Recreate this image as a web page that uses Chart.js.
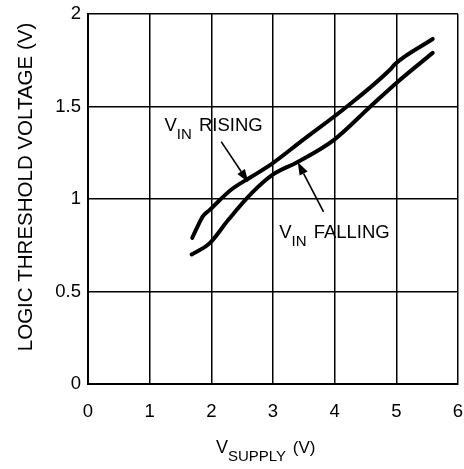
<!DOCTYPE html>
<html><head><meta charset="utf-8">
<script src="https://cdn.jsdelivr.net/npm/chart.js@4/dist/chart.umd.min.js"></script>
<style>html,body{margin:0;padding:0;background:#fff}</style>
</head><body>
<canvas id="c" width="464" height="469"></canvas>
<script>
// ---- data ----
const risingX = [1.69, 1.76, 1.87, 1.97, 2.32, 2.65, 2.98, 3.45, 4.2, 4.9, 4.98, 5.59];
const risingY = [0.79, 0.84, 0.91, 0.94, 1.05, 1.12, 1.19, 1.31, 1.50, 1.70, 1.73, 1.865];
const fallingX = [1.68, 1.97, 2.27, 2.65, 2.99, 3.4, 3.99, 4.58, 5.01, 5.59];
const fallingY = [0.70, 0.76, 0.885, 1.03, 1.13, 1.20, 1.32, 1.50, 1.63, 1.79];
const xTicks = [0, 1, 2, 3, 4, 5, 6];
const yTicks = [0, 0.5, 1, 1.5, 2];
const yTitle = 'LOGIC THRESHOLD VOLTAGE (V)';

const FONT = "'Liberation Sans', Arial, sans-serif";
const toPts = (xs, ys) => xs.map((x, i) => ({x, y: ys[i]}));

// annotation anchors in data units
const notes = [
  {main: 'V', sub: 'IN', rest: ' RISING', x: 1.24, y: 1.37, ax0: 2.16, ay0: 1.31, ax1: 2.60, ay1: 1.09},
  {main: 'V', sub: 'IN', rest: ' FALLING', x: 3.10, y: 0.79, ax0: 3.82, ay0: 0.93, ax1: 3.40, ay1: 1.20}
];

function subText(ctx, x, y, main, sub, rest, big, small, restSize) {
  ctx.textAlign = 'left';
  ctx.textBaseline = 'alphabetic';
  ctx.font = big + 'px ' + FONT;
  ctx.fillText(main, x, y);
  let w = ctx.measureText(main).width;
  ctx.font = small + 'px ' + FONT;
  ctx.fillText(sub, x + w, y + 8);
  w += ctx.measureText(sub).width + 2;
  ctx.font = (restSize || big) + 'px ' + FONT;
  ctx.fillText(rest, x + w, y);
}

function arrow(ctx, x0, y0, x1, y1) {
  ctx.strokeStyle = '#000';
  ctx.fillStyle = '#000';
  ctx.lineWidth = 1.6;
  const ang = Math.atan2(y1 - y0, x1 - x0);
  const L = 13, W = 4.5;
  const bx = x1 - L * Math.cos(ang), by = y1 - L * Math.sin(ang);
  ctx.beginPath(); ctx.moveTo(x0, y0); ctx.lineTo(bx, by); ctx.stroke();
  ctx.beginPath();
  ctx.moveTo(x1, y1);
  ctx.lineTo(bx + W * Math.sin(ang), by - W * Math.cos(ang));
  ctx.lineTo(bx - W * Math.sin(ang), by + W * Math.cos(ang));
  ctx.closePath(); ctx.fill();
}

const notePlugin = {
  id: 'notes',
  afterDraw(chart) {
    const ctx = chart.ctx, xs = chart.scales.x, ys = chart.scales.y;
    ctx.save();
    ctx.fillStyle = '#000';
    notes.forEach(n => {
      subText(ctx, xs.getPixelForValue(n.x), ys.getPixelForValue(n.y), n.main, n.sub, n.rest, 18.5, 15);
      arrow(ctx, xs.getPixelForValue(n.ax0), ys.getPixelForValue(n.ay0), xs.getPixelForValue(n.ax1), ys.getPixelForValue(n.ay1));
    });
    // x-axis title with subscript
    const ca = chart.chartArea;
    ctx.fillStyle = '#000';
    subText(ctx, (ca.left + ca.right) / 2 - 57, 453, 'V', 'SUPPLY', ' (V)', 18, 15, 17);
    // y-axis title
    ctx.save();
    ctx.translate(26, (ca.top + ca.bottom) / 2 - 12);
    ctx.rotate(-Math.PI / 2);
    ctx.font = '20.5px ' + FONT;
    ctx.textAlign = 'center';
    ctx.textBaseline = 'middle';
    ctx.fillText(yTitle, 0, 0);
    ctx.restore();
    ctx.restore();
  }
};

new Chart(document.getElementById('c'), {
  type: 'scatter',
  data: {
    datasets: [
      {label: 'VIN RISING', data: toPts(risingX, risingY)},
      {label: 'VIN FALLING', data: toPts(fallingX, fallingY)}
    ].map(d => Object.assign(d, {
      showLine: true, borderColor: '#000', borderWidth: 4, pointRadius: 0,
      cubicInterpolationMode: 'monotone', borderCapStyle: 'round', borderJoinStyle: 'round'
    }))
  },
  options: {
    responsive: false, animation: false, devicePixelRatio: 1,
    layout: {padding: {top: 14, right: 6, left: 0, bottom: 0}},
    plugins: {legend: {display: false}, tooltip: {enabled: false}},
    scales: {
      x: {
        type: 'linear', min: 0, max: 6,
        afterBuildTicks: s => { s.ticks = xTicks.map(v => ({value: v})); },
        afterFit: s => { s.height = 85; s.paddingLeft = 0; s.paddingRight = 0; },
        ticks: {color: '#000', font: {family: FONT, size: 18.5}, padding: 17, maxRotation: 0},
        grid: {color: '#000', lineWidth: 1.5, drawTicks: false},
        border: {color: '#000', width: 2}
      },
      y: {
        type: 'linear', min: 0, max: 2,
        afterBuildTicks: s => { s.ticks = yTicks.map(v => ({value: v})); },
        afterFit: s => { s.width = 88; s.paddingTop = 0; s.paddingBottom = 0; },
        ticks: {color: '#000', font: {family: FONT, size: 18.5}, padding: 7, callback: v => String(v)},
        grid: {color: '#000', lineWidth: 1.5, drawTicks: false},
        border: {color: '#000', width: 2},
        title: {display: false, text: yTitle}
      }
    }
  },
  plugins: [notePlugin]
});
</script>
</body></html>
